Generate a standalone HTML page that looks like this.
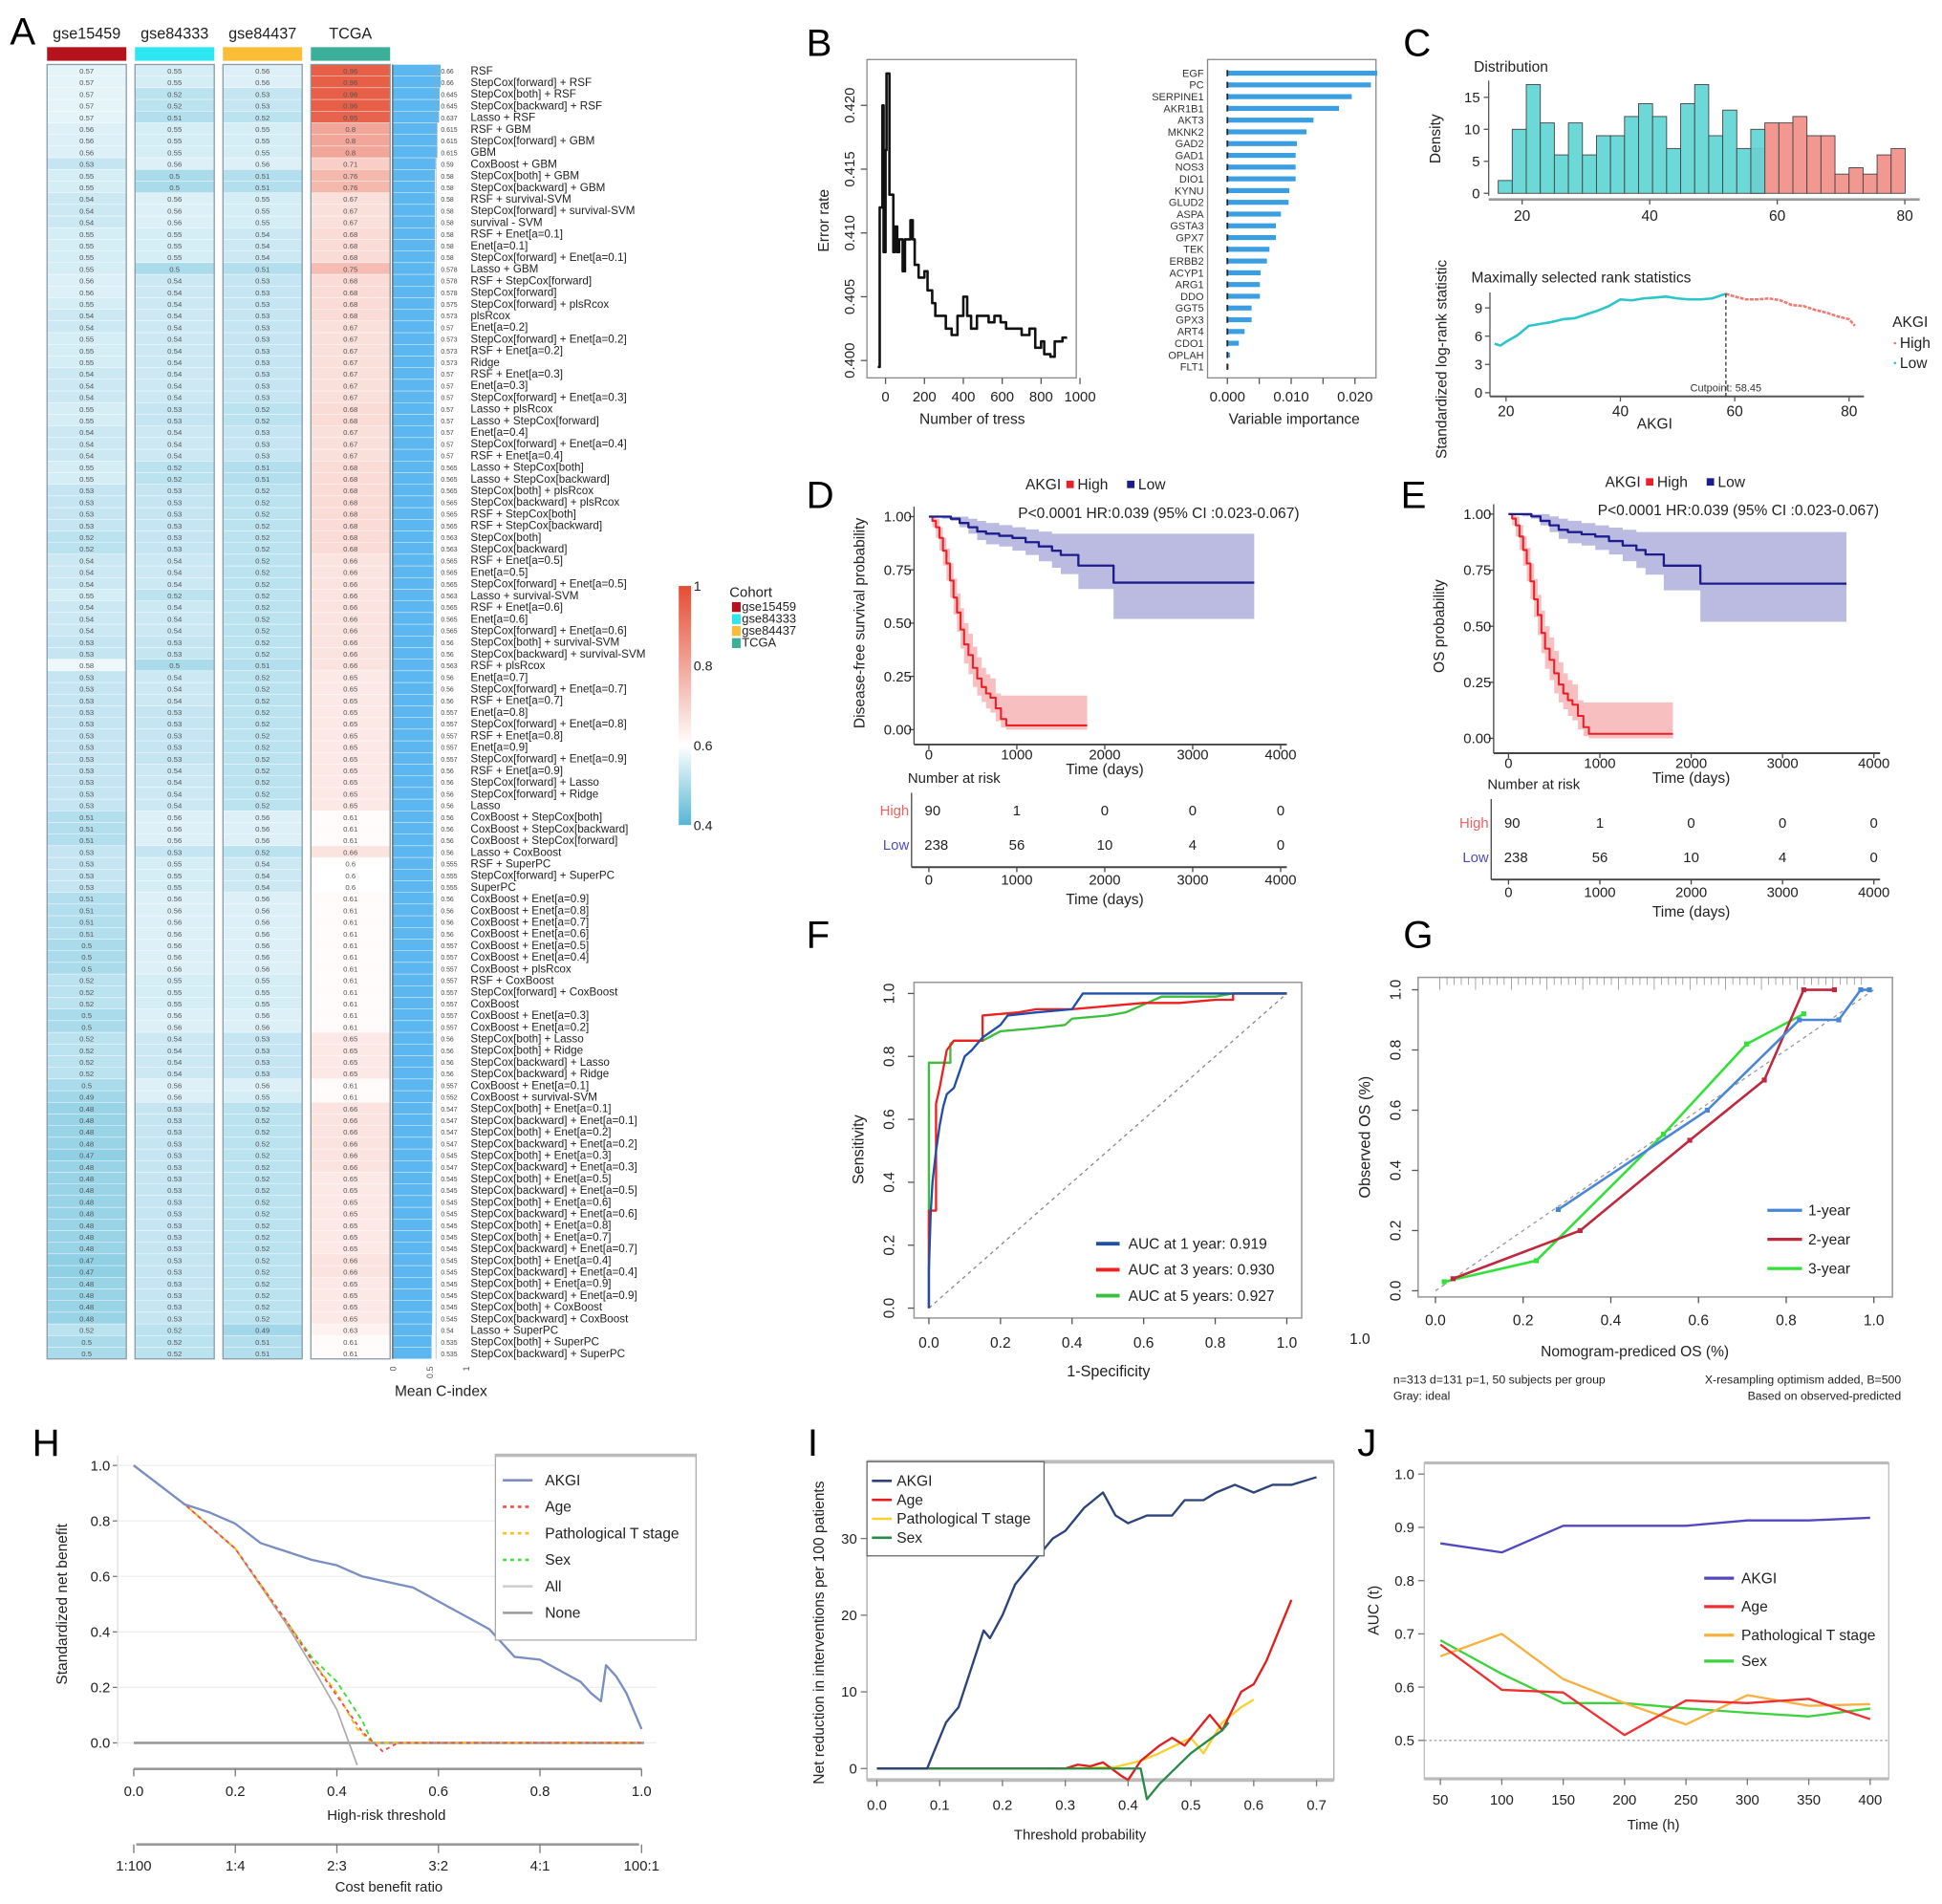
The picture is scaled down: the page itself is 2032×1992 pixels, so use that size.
<!DOCTYPE html>
<html><head><meta charset="utf-8"><style>
html,body{margin:0;padding:0;background:#fff;}
svg{display:block;}
text{font-family:"Liberation Sans",Arial,sans-serif;}
</style></head><body>
<svg id="fig" xmlns="http://www.w3.org/2000/svg" width="2032" height="1992" viewBox="0 0 1568 1537"></svg>
<script>
// ===== DATA =====
const models=["RSF","StepCox[forward] + RSF","StepCox[both] + RSF","StepCox[backward] + RSF","Lasso + RSF","RSF + GBM","StepCox[forward] + GBM","GBM","CoxBoost + GBM","StepCox[both] + GBM","StepCox[backward] + GBM","RSF + survival-SVM","StepCox[forward] + survival-SVM","survival - SVM","RSF + Enet[a=0.1]","Enet[a=0.1]","StepCox[forward] + Enet[a=0.1]","Lasso + GBM","RSF + StepCox[forward]","StepCox[forward]","StepCox[forward] + plsRcox","plsRcox","Enet[a=0.2]","StepCox[forward] + Enet[a=0.2]","RSF + Enet[a=0.2]","Ridge","RSF + Enet[a=0.3]","Enet[a=0.3]","StepCox[forward] + Enet[a=0.3]","Lasso + plsRcox","Lasso + StepCox[forward]","Enet[a=0.4]","StepCox[forward] + Enet[a=0.4]","RSF + Enet[a=0.4]","Lasso + StepCox[both]","Lasso + StepCox[backward]","StepCox[both] + plsRcox","StepCox[backward] + plsRcox","RSF + StepCox[both]","RSF + StepCox[backward]","StepCox[both]","StepCox[backward]","RSF + Enet[a=0.5]","Enet[a=0.5]","StepCox[forward] + Enet[a=0.5]","Lasso + survival-SVM","RSF + Enet[a=0.6]","Enet[a=0.6]","StepCox[forward] + Enet[a=0.6]","StepCox[both] + survival-SVM","StepCox[backward] + survival-SVM","RSF + plsRcox","Enet[a=0.7]","StepCox[forward] + Enet[a=0.7]","RSF + Enet[a=0.7]","Enet[a=0.8]","StepCox[forward] + Enet[a=0.8]","RSF + Enet[a=0.8]","Enet[a=0.9]","StepCox[forward] + Enet[a=0.9]","RSF + Enet[a=0.9]","StepCox[forward] + Lasso","StepCox[forward] + Ridge","Lasso","CoxBoost + StepCox[both]","CoxBoost + StepCox[backward]","CoxBoost + StepCox[forward]","Lasso + CoxBoost","RSF + SuperPC","StepCox[forward] + SuperPC","SuperPC","CoxBoost + Enet[a=0.9]","CoxBoost + Enet[a=0.8]","CoxBoost + Enet[a=0.7]","CoxBoost + Enet[a=0.6]","CoxBoost + Enet[a=0.5]","CoxBoost + Enet[a=0.4]","CoxBoost + plsRcox","RSF + CoxBoost","StepCox[forward] + CoxBoost","CoxBoost","CoxBoost + Enet[a=0.3]","CoxBoost + Enet[a=0.2]","StepCox[both] + Lasso","StepCox[both] + Ridge","StepCox[backward] + Lasso","StepCox[backward] + Ridge","CoxBoost + Enet[a=0.1]","CoxBoost + survival-SVM","StepCox[both] + Enet[a=0.1]","StepCox[backward] + Enet[a=0.1]","StepCox[both] + Enet[a=0.2]","StepCox[backward] + Enet[a=0.2]","StepCox[both] + Enet[a=0.3]","StepCox[backward] + Enet[a=0.3]","StepCox[both] + Enet[a=0.5]","StepCox[backward] + Enet[a=0.5]","StepCox[both] + Enet[a=0.6]","StepCox[backward] + Enet[a=0.6]","StepCox[both] + Enet[a=0.8]","StepCox[both] + Enet[a=0.7]","StepCox[backward] + Enet[a=0.7]","StepCox[both] + Enet[a=0.4]","StepCox[backward] + Enet[a=0.4]","StepCox[both] + Enet[a=0.9]","StepCox[backward] + Enet[a=0.9]","StepCox[both] + CoxBoost","StepCox[backward] + CoxBoost","Lasso + SuperPC","StepCox[both] + SuperPC","StepCox[backward] + SuperPC"];
const cohorts=["gse15459","gse84333","gse84437","TCGA"];
const gse15459=[.57,.57,.57,.57,.57,.56,.56,.56,.53,.55,.55,.54,.54,.54,.55,.55,.55,.55,.56,.56,.55,.54,.54,.55,.55,.55,.54,.54,.54,.55,.55,.54,.54,.54,.55,.55,.53,.53,.53,.53,.52,.52,.54,.54,.54,.55,.54,.54,.54,.53,.53,.58,.53,.53,.53,.53,.53,.53,.53,.53,.53,.53,.53,.53,.51,.51,.51,.53,.53,.53,.53,.51,.51,.51,.51,.5,.5,.5,.52,.52,.52,.5,.5,.52,.52,.52,.52,.5,.49,.48,.48,.48,.48,.47,.48,.48,.48,.48,.48,.48,.48,.48,.47,.47,.48,.48,.48,.48,.52,.5,.5];
const gse84333=[.55,.55,.52,.52,.51,.55,.55,.55,.56,.5,.5,.56,.56,.56,.55,.55,.55,.5,.54,.54,.54,.54,.54,.54,.54,.54,.54,.54,.54,.53,.53,.54,.54,.54,.52,.52,.53,.53,.53,.53,.53,.53,.54,.54,.54,.52,.54,.54,.54,.53,.53,.5,.54,.54,.54,.53,.53,.53,.53,.53,.54,.54,.54,.54,.56,.56,.56,.53,.55,.55,.55,.56,.56,.56,.56,.56,.56,.56,.55,.55,.55,.56,.56,.54,.54,.54,.54,.56,.56,.53,.53,.53,.53,.53,.53,.53,.53,.53,.53,.53,.53,.53,.53,.53,.53,.53,.53,.53,.52,.52,.52];
const gse84437=[.56,.56,.53,.53,.52,.55,.55,.55,.56,.51,.51,.55,.55,.55,.54,.54,.54,.51,.53,.53,.53,.53,.53,.53,.53,.53,.53,.53,.53,.52,.52,.53,.53,.53,.51,.51,.52,.52,.52,.52,.52,.52,.52,.52,.52,.52,.52,.52,.52,.52,.52,.51,.52,.52,.52,.52,.52,.52,.52,.52,.52,.52,.52,.52,.56,.56,.56,.52,.54,.54,.54,.56,.56,.56,.56,.56,.56,.56,.55,.55,.55,.56,.56,.53,.53,.53,.53,.56,.55,.52,.52,.52,.52,.52,.52,.52,.52,.52,.52,.52,.52,.52,.52,.52,.52,.52,.52,.52,.49,.51,.51];
const tcga=[.96,.96,.96,.96,.95,.8,.8,.8,.71,.76,.76,.67,.67,.67,.68,.68,.68,.75,.68,.68,.68,.68,.67,.67,.67,.67,.67,.67,.67,.68,.68,.67,.67,.67,.68,.68,.68,.68,.68,.68,.68,.68,.66,.66,.66,.66,.66,.66,.66,.66,.66,.66,.65,.65,.65,.65,.65,.65,.65,.65,.65,.65,.65,.65,.61,.61,.61,.66,.6,.6,.6,.61,.61,.61,.61,.61,.61,.61,.61,.61,.61,.61,.61,.65,.65,.65,.65,.61,.61,.66,.66,.66,.66,.66,.66,.65,.65,.65,.65,.65,.65,.65,.66,.66,.65,.65,.65,.65,.63,.61,.61];

const errTrees=[-40,-30,-30,-16,-16,-10,0,5,16,20,32,40,48,60,70,88,100,128,140,150,170,200,216,240,256,280,310,340,370,400,420,440,470,500,530,560,592,620,660,700,740,770,800,816,848,870,896,910,928];
const errRate=[.3995,.3995,.412,.412,.420,.4085,.4165,.4225,.4225,.413,.413,.4085,.4105,.4085,.4095,.407,.4095,.411,.4095,.4075,.4065,.407,.4055,.4045,.4035,.4035,.4025,.402,.4035,.405,.4035,.4025,.4035,.4035,.403,.4035,.403,.4025,.4025,.402,.4025,.401,.4015,.4005,.4003,.4015,.4015,.4018,.4017];
const genes=["EGF","PC","SERPINE1","AKR1B1","AKT3","MKNK2","GAD2","GAD1","NOS3","DIO1","KYNU","GLUD2","ASPA","GSTA3","GPX7","TEK","ERBB2","ACYP1","ARG1","DDO","GGT5","GPX3","ART4","CDO1","OPLAH","FLT1"];
const importance=[.0235,.0225,.0195,.0175,.0135,.0124,.0109,.0107,.0107,.0107,.0097,.0096,.0084,.0076,.0076,.0066,.0062,.0052,.0051,.0051,.0038,.0038,.0027,.0018,.0004,.0002];

const histStartLow=16.25, histStartHigh=55.85, binW=2.2;
const histLow=[2,10,17,11,6,11,6,9,9,12,14,12,7,14,17,9,13,7,10];
const histHigh=[7,11,11,12,9,9,3,4,3,6,7];
const rankX=[18,19,20,22,24,26,28,30,32,34,36,38,40,42,44,46,48,50,52,54,56,58.45];
const rankY=[5.2,5.0,5.4,6.1,7.1,7.3,7.5,7.8,7.9,8.3,8.7,9.2,9.9,9.8,10,10.1,10.2,10,9.9,9.9,10,10.5];
const rankXH=[58.45,60,62,64,66,68,70,72,74,76,78,80,81];
const rankYH=[10.5,10.2,9.9,9.9,10,9.8,9.3,9.2,8.8,8.5,8.1,7.8,7.1];

const kmTimeHigh=[0,40,80,120,160,200,240,280,320,360,400,450,500,550,600,650,700,760,820,880,1800];
const kmSurvHigh=[1,.98,.95,.9,.84,.78,.7,.62,.55,.47,.4,.35,.29,.24,.2,.17,.15,.1,.05,.02,.02];
const kmHiHigh=[1,1,.99,.95,.9,.85,.78,.71,.64,.57,.5,.45,.39,.34,.29,.26,.24,.17,.16,.16,.16];
const kmLoHigh=[1,.95,.9,.84,.77,.7,.62,.54,.46,.38,.31,.26,.2,.16,.13,.1,.08,.04,.01,.0,.0];
const kmTimeLow=[0,150,250,350,450,550,650,800,950,1100,1250,1400,1500,1700,2100,3700];
const kmSurvLow=[1,1,.99,.97,.95,.93,.92,.91,.9,.88,.86,.84,.82,.77,.69,.69];
const kmHiLow=[1,1,1,1,.99,.98,.97,.96,.95,.94,.93,.92,.92,.92,.92,.92];
const kmLoLow=[1,.99,.98,.95,.92,.89,.87,.86,.84,.82,.79,.76,.73,.66,.52,.52];
const riskTimes=[0,1000,2000,3000,4000];
const riskHigh=[90,1,0,0,0];
const riskLow=[238,56,10,4,0];

const roc1x=[0,0,.005,.01,.02,.03,.04,.05,.07,.1,.12,.15,.2,.22,.3,.4,.43,.6,.78,1];
const roc1y=[0,.12,.3,.4,.5,.58,.64,.68,.7,.8,.82,.86,.9,.93,.94,.95,1,1,1,1];
const roc3x=[0,0,.02,.02,.03,.05,.07,.09,.15,.15,.25,.3,.4,.5,.6,.7,.8,.85,.85,1];
const roc3y=[0,.31,.31,.65,.7,.82,.85,.85,.85,.93,.94,.95,.95,.96,.97,.97,.98,.98,1,1];
const roc5x=[0,0,.06,.06,.07,.15,.2,.3,.38,.4,.5,.55,.65,.8,.85,1];
const roc5y=[0,.78,.78,.84,.85,.85,.88,.89,.9,.92,.93,.94,.99,.99,1,1];

const cal1x=[.28,.62,.83,.92,.97,.99];
const cal1y=[.27,.6,.9,.9,1,1];
const cal2x=[.04,.33,.58,.75,.84,.91];
const cal2y=[.04,.2,.5,.7,1,1];
const cal3x=[.02,.23,.52,.71,.84];
const cal3y=[.03,.1,.52,.82,.92];

const dcaAx=[0,.05,.1,.15,.2,.25,.3,.35,.4,.45,.5,.55,.6,.65,.7,.73,.75,.8,.85,.88,.9,.92,.93,.95,.97,1];
const dcaAy=[1,.93,.86,.83,.79,.72,.69,.66,.64,.6,.58,.56,.51,.46,.41,.35,.31,.3,.25,.22,.18,.15,.28,.24,.18,.05];
const dcaAllx=[0,.1,.2,.3,.35,.4,.44];
const dcaAlly=[1,.86,.7,.43,.28,.12,-.08];
const dcaAgex=[0,.1,.2,.3,.35,.4,.45,.49,.52,.55,.6,1];
const dcaAgey=[1,.86,.7,.44,.3,.17,.04,-.03,.0,0,0,0];
const dcaTx=[0,.1,.2,.3,.35,.4,.44,.47,.5,.55,1];
const dcaTy=[1,.86,.7,.44,.3,.18,.05,0,0,0,0];
const dcaSexx=[0,.1,.2,.3,.35,.4,.45,.47,.5,.55,1];
const dcaSexy=[1,.86,.7,.44,.31,.22,.08,0,0,0,0];

const nrAx=[0,.08,.09,.11,.13,.15,.17,.18,.2,.22,.24,.26,.28,.3,.33,.36,.38,.4,.43,.47,.49,.52,.54,.57,.6,.63,.66,.7];
const nrAy=[0,0,2,6,8,13,18,17,20,24,26,28,30,31,34,36,33,32,33,33,35,35,36,37,36,37,37,38];
const nrAgex=[0,.3,.32,.34,.36,.39,.4,.42,.45,.47,.49,.51,.53,.55,.58,.6,.62,.64,.66];
const nrAgey=[0,0,.5,.3,.8,-1,-1.5,1,3,4,3,5,7,5,10,11,14,18,22];
const nrTx=[0,.3,.38,.42,.45,.5,.52,.55,.58,.6];
const nrTy=[0,0,.2,1,2,4,2,6,8,9];
const nrSexx=[0,.42,.43,.45,.5,.55,.56];
const nrSexy=[0,0,-4,-2,2,5,6];

const jTimes=[50,100,150,200,250,300,350,400];
const jAKGI=[.87,.853,.903,.903,.903,.913,.913,.918];
const jAge=[.68,.595,.59,.51,.575,.57,.578,.54];
const jT=[.658,.70,.615,.57,.53,.585,.565,.568];
const jSex=[.688,.625,.57,.57,.56,.552,.545,.56];

// ===== HELPERS =====
const svg=document.getElementById('fig');
const NS='http://www.w3.org/2000/svg';
function mk(tag,attrs,name,parent){
  const el=document.createElementNS(NS,tag);
  for(const k in attrs) el.setAttribute(k,attrs[k]);
  
  
  (parent||svg).appendChild(el);return el;}
function T(x,y,s,fs,anchor,fill,rot,name){
  const a={x:x,y:y,'font-size':fs||11,'text-anchor':anchor||'start',fill:fill||'#222'};
  if(rot!=null)a.transform='rotate('+rot+' '+x+' '+y+')';
  const el=mk('text',a,name||'label');el.textContent=s;return el;}
function L(x1,y1,x2,y2,st,w,name,dash){
  const a={x1:x1,y1:y1,x2:x2,y2:y2,stroke:st||'#333','stroke-width':w||1};
  if(dash)a['stroke-dasharray']=dash;return mk('line',a,name||'axis-line');}
function R(x,y,w,h,fill,name,stroke,sw,op){
  const a={x:x,y:y,width:Math.max(0,w),height:Math.max(0,h),fill:fill};
  if(stroke){a.stroke=stroke;a['stroke-width']=sw||1;}
  if(op!=null)a['fill-opacity']=op;return mk('rect',a,name||'rect');}
function P(pts,st,w,name,dash,fill,op){
  const d='M'+pts.map(p=>p[0].toFixed(2)+','+p[1].toFixed(2)).join('L');
  const a={d:d,stroke:st||'none','stroke-width':w||1.5,fill:fill||'none','stroke-linejoin':'round'};
  if(dash)a['stroke-dasharray']=dash;if(op!=null)a['fill-opacity']=op;return mk('path',a,name||'series-line');}
function lin(d0,d1,r0,r1){return v=>r0+(v-d0)/(d1-d0)*(r1-r0);}
function zip(xs,ys,sx,sy){return xs.map((v,i)=>[sx(v),sy(ys[i])]);}
function stepPts(ts,ss,sx,sy){const p=[];for(let i=0;i<ts.length;i++){if(i>0)p.push([sx(ts[i]),sy(ss[i-1])]);p.push([sx(ts[i]),sy(ss[i])]);}return p;}
function hex(c){return [parseInt(c.slice(1,3),16),parseInt(c.slice(3,5),16),parseInt(c.slice(5,7),16)];}
function mix(a,b,t){const A=hex(a),B=hex(b);return 'rgb('+A.map((v,i)=>Math.round(v+(B[i]-v)*t)).join(',')+')';}
function hcol(v){if(v<=0.6)return mix('#55b6d6','#ffffff',Math.max(0,(v-0.4)/0.2));return mix('#ffffff','#e44d33',Math.min(1,(v-0.6)/0.4));}
function letter(x,y,s){T(x,y,s,31,'start','#000',null,'panel-label-'+s.toLowerCase());}

// ===== PANEL A =====
letter(8,36,'A');
const colX=[38,109,180,251], colW=64, hTop=52, hBot=1097;
const rh=(hBot-hTop)/models.length;
const headCol=['#b5121b','#2ee6f2','#fbbd36','#3caf9a'];
const cols=[gse15459,gse84333,gse84437,tcga];
cohorts.forEach((c,j)=>{
  T(colX[j]+colW/2,31,c,12.5,'middle','#222',null,'cohort-header');
  R(colX[j],38,colW,11,headCol[j],'cohort-color-bar');
});
for(let i=0;i<models.length;i++){
  const y=hTop+i*rh;
  let sum=0;
  for(let j=0;j<4;j++){
    const v=cols[j][i];sum+=v;
    R(colX[j],y,colW,rh,hcol(v),'heatmap-cell','#ffffff',0.3);
    T(colX[j]+colW/2,y+rh*0.78,String(v),6,'middle','#555',null,'cell-value');
  }
  const m=sum/4;
  const sb=lin(0,1,317,376);
  R(317,y,sb(m)-317,rh,'#5cb6ef','mean-cindex-bar','#ffffff',0.3);
  T(356,y+rh*0.78,String(+m.toFixed(3)),5.3,'start','#444',null,'mean-value');
  T(380,y+rh*0.85,models[i],9,'start','#222',null,'model-label');
}
for(let j=0;j<4;j++) R(colX[j],hTop,colW,hBot-hTop,'none','heatmap-column-border','#8a9ba4',1);
L(317,hTop,317,hBot,'#444',0.8,'bar-axis');
L(352,hTop,352,hBot,'#9aa',0.5,'bar-border');
const sbm=lin(0,1,317,376);
[0,0.5,1].forEach(t=>T(sbm(t)+3,1103,String(t),7,'end','#555',-90,'bar-tick-label'));
T(356,1127,'Mean C-index',12,'middle','#222',null,'bar-axis-title');
// colorbar
const gdef=mk('defs',{},'defs');
const lg=mk('linearGradient',{id:'cb',x1:'0',y1:'1',x2:'0',y2:'0'},'gradient',gdef);
[['0','#55b6d6'],['0.333','#ffffff'],['1','#e44d33']].forEach(s=>mk('stop',{offset:s[0],'stop-color':s[1]},'gradient-stop',lg));
R(548,473,10,193,'url(#cb)','colorbar');
const scb=lin(0.4,1,666,473);
[1,0.8,0.6,0.4].forEach(t=>T(560,scb(t)+4,String(t),11,'start','#222',null,'colorbar-label'));
T(589,482,'Cohort',11.5,'start','#222',null,'cohort-legend-title');
cohorts.forEach((c,j)=>{R(591,486+j*9.7,7,8,headCol[j],'cohort-legend-key');T(599,493+j*9.7,c,10,'start','#222',null,'cohort-legend-label');});

// ===== PANEL B =====
letter(651,45,'B');
const bx=lin(0,1000,715,872), by=lin(0.400,0.420,291,85);
R(700,48,169,257,'none','error-plot-frame','#888',1);
P(stepPts(errTrees,errRate,bx,by),'#111',2,'error-rate-line');
[0,200,400,600,800,1000].forEach(t=>{L(bx(t),305,bx(t),310,'#555',1,'x-tick');T(bx(t),324,String(t),11.5,'middle','#222',null,'x-tick-label');});
[.400,.405,.410,.415,.420].forEach(t=>{L(695,by(t),700,by(t),'#555',1,'y-tick');T(690,by(t),t.toFixed(3),11.5,'middle','#222',-90,'y-tick-label');});
T(785,342,'Number of tress',12,'middle','#222',null,'x-axis-title');
T(669,178,'Error rate',12,'middle','#222',-90,'y-axis-title');
// importance
const ix=lin(0,0.020,991,1094), iy=i=>59+i*(296-59)/(genes.length-1);
R(975,48,136,257,'none','importance-frame','#888',1);
genes.forEach((g,i)=>{
  R(ix(0),iy(i)-2,ix(importance[i])-ix(0),4,i===genes.length-1?'#e05a4a':'#3b9ee0','importance-bar-'+g.toLowerCase());
  L(ix(0),iy(i)-2.5,ix(0),iy(i)+2.5,'#223',1.4,'importance-bar-start');
  T(972,iy(i)+3,g,8.5,'end','#333',null,'gene-label');
});
[0,.005,.010,.015,.020].forEach(t=>{L(ix(t),305,ix(t),310,'#555',1,'x-tick');});
[0,.010,.020].forEach(t=>T(ix(t),324,t.toFixed(3),11.5,'middle','#222',null,'x-tick-label'));
T(1045,342,'Variable importance',12,'middle','#222',null,'x-axis-title');

// ===== PANEL C =====
letter(1133,45,'C');
T(1190,58,'Distribution',12,'start','#222',null,'histogram-title');
const hx=lin(20,80,1229,1538), hy=lin(0,15,156,78.5);
L(1202,161,1550,161,'#999',2,'x-axis-line');
L(1202,65,1202,158,'#555',1,'y-axis-line');
histHigh.forEach((h,i)=>R(hx(histStartHigh+i*binW),hy(h),hx(binW)-hx(0),hy(0)-hy(h),'#f29891','histogram-bar-high','#444',0.7));
histLow.forEach((h,i)=>R(hx(histStartLow+i*binW),hy(h),hx(binW)-hx(0),hy(0)-hy(h),'#5fd5d5','histogram-bar-low','#444',0.7,0.92));
[0,5,10,15].forEach(t=>{L(1198,hy(t),1202,hy(t),'#555',1,'y-tick');T(1195,hy(t)+4,String(t),11.5,'end','#222',null,'y-tick-label');});
[20,40,60,80].forEach(t=>{L(hx(t),161,hx(t),165,'#555',1,'x-tick');T(hx(t),178,String(t),12,'middle','#222',null,'x-tick-label');});
T(1163,112,'Density',12,'middle','#222',-90,'y-axis-title');
// max rank
T(1188,228,'Maximally selected rank statistics',12,'start','#222',null,'rank-title');
const rx=lin(20,80,1216,1493), ry=lin(0,9,317,248.5);
L(1203,236,1203,320,'#555',1,'y-axis-line');
L(1203,320,1505,320,'#555',1.5,'x-axis-line');
P(zip(rankX,rankY,rx,ry),'#2cc5c8',2,'rank-line-low');
P(zip(rankXH,rankYH,rx,ry),'#ef7a74',2,'rank-line-high','3 1');
L(rx(58.45),ry(rankY[rankY.length-1]),rx(58.45),320,'#333',1,'cutpoint-line','3 2');
T(rx(58.45),316,'Cutpoint: 58.45',8.5,'middle','#333',null,'cutpoint-label');
[0,3,6,9].forEach(t=>{L(1199,ry(t),1203,ry(t),'#555',1,'y-tick');T(1197,ry(t)+4,String(t),11.5,'end','#222',null,'y-tick-label');});
[20,40,60,80].forEach(t=>{L(rx(t),320,rx(t),324,'#555',1,'x-tick');T(rx(t),336,String(t),12,'middle','#222',null,'x-tick-label');});
T(1336,346,'AKGI',12,'middle','#222',null,'x-axis-title');
T(1168,290,'Standardized log-rank statistic',12,'middle','#222',-90,'y-axis-title');
T(1528,264,'AKGI',12,'start','#222',null,'rank-legend-title');
T(1534,281,'High',12,'start','#222',null,'rank-legend-high');
T(1534,297,'Low',12,'start','#222',null,'rank-legend-low');
mk('circle',{cx:1530,cy:277,r:1,fill:'#ef7a74'},'legend-dot-high');
mk('circle',{cx:1530,cy:293,r:1,fill:'#2cc5c8'},'legend-dot-low');

// ===== KM PANELS =====
function km(ox,o){
  const sx=lin(0,4000,o.x0,o.x4), sy=lin(0,1,o.y0,o.y1);
  // CI bands
  const bandH=stepPts(kmTimeHigh,kmHiHigh,sx,sy).concat(stepPts(kmTimeHigh,kmLoHigh,sx,sy).reverse());
  P(bandH,'none',0,'ci-band-high',null,'#f08a8a',0.55);
  const bandL=stepPts(kmTimeLow,kmHiLow,sx,sy).concat(stepPts(kmTimeLow,kmLoLow,sx,sy).reverse());
  P(bandL,'none',0,'ci-band-low',null,'#8d8dce',0.6);
  P(stepPts(kmTimeHigh,kmSurvHigh,sx,sy),'#e8202a',1.6,'km-curve-high');
  P(stepPts(kmTimeLow,kmSurvLow,sx,sy),'#1c1c8c',1.8,'km-curve-low');
  [600,900,1300,1900,2500,2900,3300,3600].forEach(t=>{}); 
  L(o.x0-12,o.y1-8,o.x0-12,o.y0+12,'#444',1,'y-axis-line');
  L(o.x0-12,o.y0+12,o.x4+5,o.y0+12,'#444',1.5,'x-axis-line');
  [0,.25,.5,.75,1].forEach(t=>{L(o.x0-16,sy(t),o.x0-12,sy(t),'#444',1,'y-tick');T(o.x0-14,sy(t)+4,t.toFixed(2),11.5,'end','#222',null,'y-tick-label');});
  riskTimes.forEach(t=>{L(sx(t),o.y0+12,sx(t),o.y0+16,'#444',1,'x-tick');T(sx(t),o.y0+24,String(t),11.5,'middle','#222',null,'x-tick-label');});
  T(sx(2000),o.y0+36,'Time (days)',12,'middle','#222',null,'x-axis-title');
  T(o.ylabX,(o.y0+o.y1)/2,o.ylab,12,'middle','#222',-90,'y-axis-title');
  T(o.x0+78,o.y1-22,'AKGI',12,'start','#222',null,'legend-title');
  R(o.x0+111,o.y1-29,6,6,'#e8202a','legend-key-high');T(o.x0+120,o.y1-22,'High',12,'start','#222',null,'legend-label-high');
  R(o.x0+160,o.y1-29,6,6,'#1c1c8c','legend-key-low');T(o.x0+169,o.y1-22,'Low',12,'start','#222',null,'legend-label-low');
  T(o.x0+72,o.y1+1,'P<0.0001 HR:0.039 (95% CI :0.023-0.067)',12,'start','#222',null,'p-value-text');
  // risk table
  T(o.x0-17,o.nar,'Number at risk',11.5,'start','#222',null,'risk-table-title');
  L(o.x0-14,o.nar+8,o.x0-14,o.tax,'#444',1,'risk-axis-y');
  L(o.x0-14,o.tax,o.x4+5,o.tax,'#444',1.5,'risk-axis-x');
  T(o.x0-16,o.rh+4,'High',11.5,'end','#f06060',null,'risk-label-high');
  T(o.x0-16,o.rl+4,'Low',11.5,'end','#4a4acc',null,'risk-label-low');
  riskTimes.forEach((t,i)=>{
    T(sx(t)+(i===0?3:0),o.rh+4,String(riskHigh[i]),11.5,'middle','#222',null,'risk-high-count');
    T(sx(t)+(i===0?6:0),o.rl+4,String(riskLow[i]),11.5,'middle','#222',null,'risk-low-count');
    L(sx(t),o.tax,sx(t),o.tax+4,'#444',1,'risk-tick');
    T(sx(t),o.tax+14,String(t),11.5,'middle','#222',null,'risk-tick-label');
  });
  T(sx(2000),o.tax+30,'Time (days)',12,'middle','#222',null,'risk-x-title');
}
letter(651,410,'D');letter(1131,410,'E');
km(0,{x0:750,x4:1034,y0:589,y1:417,ylab:'Disease-free survival probability',ylabX:698,nar:632,rh:654,rl:682,tax:700});
km(0,{x0:1218,x4:1513,y0:596,y1:415,ylab:'OS probability',ylabX:1166,nar:637,rh:664,rl:692,tax:710});

// ===== PANEL F =====
letter(651,765,'F');
const fx=lin(0,1,750,1039), fy=lin(0,1,1056,802);
R(738,793,313,271,'none','roc-frame','#999',1.2);
L(fx(0),fy(0),fx(1),fy(1),'#888',1,'diagonal-reference','3 3');
P(zip(roc5x,roc5y,fx,fy),'#3cbf3c',1.8,'roc-5-year');
P(zip(roc3x,roc3y,fx,fy),'#ee2020',1.8,'roc-3-year');
P(zip(roc1x,roc1y,fx,fy),'#1f4fa8',1.8,'roc-1-year');
[0,.2,.4,.6,.8,1].forEach(t=>{L(fx(t),1064,fx(t),1069,'#555',1,'x-tick');T(fx(t),1088,t.toFixed(1),12,'middle','#222',null,'x-tick-label');
  L(733,fy(t),738,fy(t),'#555',1,'y-tick');T(722,fy(t),t.toFixed(1),12,'middle','#222',-90,'y-tick-label');});
T(895,1111,'1-Specificity',12.5,'middle','#222',null,'x-axis-title');
T(697,928,'Sensitivity',12.5,'middle','#222',-90,'y-axis-title');
[['AUC at 1 year: 0.919','#1f4fa8'],['AUC at 3 years: 0.930','#ee2020'],['AUC at 5 years: 0.927','#3cbf3c']].forEach((e,i)=>{
  L(885,1004+i*21,904,1004+i*21,e[1],3,'legend-key');T(911,1008+i*21,e[0],12,'start','#222',null,'legend-label');});
T(1098,1085,'1.0',12,'middle','#222',null,'stray-tick-label');

// ===== PANEL G =====
letter(1133,765,'G');
const gx=lin(0,1,1159,1513), gy=lin(0,1,1042,799);
R(1145,789,383,258,'none','calibration-frame','#999',1.2);
for(let i=0;i<60;i++){const v=0.01+ i*0.0163;L(gx(v),789,gx(v),795+(i%5===0?4:0),'#777',0.5,'rug-tick');}
L(gx(0),gy(0),gx(1),gy(1),'#999',1,'ideal-line','3 3');
function calSeries(xs,ys,c,name){P(zip(xs,ys,gx,gy),c,2,name);xs.forEach((v,i)=>R(gx(v)-2,gy(ys[i])-2,4,4,c,name+'-point'));}
calSeries(cal3x,cal3y,'#33e03a','cal-3-year');
calSeries(cal2x,cal2y,'#c0283e','cal-2-year');
calSeries(cal1x,cal1y,'#4a86d6','cal-1-year');
[0,.2,.4,.6,.8,1].forEach(t=>{L(gx(t),1047,gx(t),1052,'#555',1,'x-tick');T(gx(t),1070,t.toFixed(1),12,'middle','#222',null,'x-tick-label');
  L(1140,gy(t),1145,gy(t),'#555',1,'y-tick');T(1131,gy(t),t.toFixed(1),12,'middle','#222',-90,'y-tick-label');});
T(1320,1095,'Nomogram-prediced OS (%)',12,'middle','#222',null,'x-axis-title');
T(1106,918,'Observed OS (%)',12.5,'middle','#222',-90,'y-axis-title');
[['1-year','#4a86d6'],['2-year','#c0283e'],['3-year','#33e03a']].forEach((e,i)=>{
  L(1427,977+i*23.5,1455,977+i*23.5,e[1],2.5,'legend-key');T(1460,981+i*23.5,e[0],12,'start','#222',null,'legend-label');});
T(1125,1117,'n=313 d=131 p=1, 50 subjects per group',9.5,'start','#222',null,'footnote');
T(1125,1130,'Gray: ideal',9.5,'start','#222',null,'footnote');
T(1535,1117,'X-resampling optimism added, B=500',9.5,'end','#222',null,'footnote');
T(1535,1130,'Based on observed-predicted',9.5,'end','#222',null,'footnote');

// ===== PANEL H =====
letter(26,1175,'H');
const Hx=lin(0,1,108,518), Hy=lin(0,1,1407,1183);
[0,.2,.4,.6,.8,1].forEach(t=>L(94,Hy(t),530,Hy(t),'#eeeeee',1,'gridline'));
L(108,Hy(0),520,Hy(0),'#999',2,'none-line');
P(zip(dcaAllx,dcaAlly,Hx,Hy),'#aaaaaa',1.3,'all-line');
P(zip(dcaSexx,dcaSexy,Hx,Hy),'#44dd44',1.5,'sex-line','4 3');
P(zip(dcaTx,dcaTy,Hx,Hy),'#f4c020',1.5,'t-stage-line','4 3');
P(zip(dcaAgex,dcaAgey,Hx,Hy),'#ee5050',1.5,'age-line','3 3');
P(zip(dcaAx,dcaAy,Hx,Hy),'#7a8ec2',1.8,'akgi-line');
L(108,1428,518,1428,'#999',2,'x-axis-line');
[0,.2,.4,.6,.8,1].forEach(t=>{L(Hx(t),1428,Hx(t),1434,'#777',1,'x-tick');T(Hx(t),1450,t.toFixed(1),11.5,'middle','#222',null,'x-tick-label');
  L(91,Hy(t),95,Hy(t),'#777',1,'y-tick');T(89,Hy(t)+4,t.toFixed(1),11.5,'end','#222',null,'y-tick-label');});
L(95,1175,95,1410,'#ddd',1,'y-axis-line');
T(312,1469,'High-risk threshold',11.5,'middle','#222',null,'x-axis-title');
L(110,1489,516,1489,'#999',2,'cost-axis-line');
[['1:100',0],['1:4',.2],['2:3',.4],['3:2',.6],['4:1',.8],['100:1',1]].forEach(e=>{L(Hx(e[1]),1489,Hx(e[1]),1496,'#777',1,'cost-tick');T(Hx(e[1]),1510,e[0],11.5,'middle','#222',null,'cost-tick-label');});
T(314,1527,'Cost benefit ratio',11.5,'middle','#222',null,'cost-axis-title');
T(54,1295,'Standardized net benefit',12,'middle','#222',-90,'y-axis-title');
R(400,1174,162,150,'#ffffff','legend-box','#aaa',1);
L(400,1175,562,1175,'#bbb',2.5,'legend-top');
[['AKGI','#7a8ec2',null],['Age','#ee5050','3 3'],['Pathological T stage','#f4c020','3 3'],['Sex','#44dd44','3 3'],['All','#cccccc',null],['None','#999999',null]].forEach((e,i)=>{
  const y=1195+i*21.4;L(406,y,430,y,e[1],2,'legend-key',e[2]);T(440,y+4,e[0],12,'start','#222',null,'legend-label');});

// ===== PANEL I =====
letter(652,1175,'I');
const Ix=lin(0,0.7,708,1063), Iy=lin(0,30,1427.7,1242);
R(700,1180,377,257,'none','nr-frame','#aaa',1);
L(700,1180,1077,1180,'#bbb',3,'frame-top');L(700,1437,1077,1437,'#bbb',3,'frame-bottom');
P(zip(nrTx,nrTy,Ix,Iy),'#f8d030',1.8,'t-stage-line');
P(zip(nrAgex,nrAgey,Ix,Iy),'#e02020',1.8,'age-line');
P(zip(nrSexx,nrSexy,Ix,Iy),'#2a8a4a',1.8,'sex-line');
P(zip(nrAx,nrAy,Ix,Iy),'#2c4478',1.8,'akgi-line');
[0,.1,.2,.3,.4,.5,.6,.7].forEach(t=>{L(Ix(t),1437,Ix(t),1442,'#777',1,'x-tick');T(Ix(t),1461,t.toFixed(1),11.5,'middle','#222',null,'x-tick-label');});
[0,10,20,30].forEach(t=>{L(695,Iy(t),700,Iy(t),'#777',1,'y-tick');T(692,Iy(t)+4,String(t),11.5,'end','#222',null,'y-tick-label');});
T(872,1485,'Threshold probability',11.5,'middle','#222',null,'x-axis-title');
T(665,1318,'Net reduction in interventions per 100 patients',12,'middle','#222',-90,'y-axis-title');
R(700,1180,143,76,'#ffffff','legend-box','#666',1);
[['AKGI','#2c4478'],['Age','#e02020'],['Pathological T stage','#f8d030'],['Sex','#2a8a4a']].forEach((e,i)=>{
  const y=1195.5+i*15.3;L(704,y,720,y,e[1],2,'legend-key');T(724,y+4,e[0],12,'start','#222',null,'legend-label');});

// ===== PANEL J =====
letter(1096,1175,'J');
const Jx=lin(50,400,1163,1510), Jy=lin(0.5,1.0,1405,1190);
R(1150,1181,375,255,'none','auc-frame','#bbb',1);
L(1150,1181,1525,1181,'#bbb',2.5,'frame-top');L(1150,1436,1525,1436,'#bbb',2.5,'frame-bottom');
L(1150,Jy(0.5),1525,Jy(0.5),'#999',1,'reference-line','2 2');
P(zip(jTimes,jSex,Jx,Jy),'#3ed23e',1.8,'sex-line');
P(zip(jTimes,jT,Jx,Jy),'#f8b040',1.8,'t-stage-line');
P(zip(jTimes,jAge,Jx,Jy),'#f03030',1.8,'age-line');
P(zip(jTimes,jAKGI,Jx,Jy),'#5148c0',1.8,'akgi-line');
jTimes.forEach(t=>{L(Jx(t),1436,Jx(t),1441,'#777',1,'x-tick');T(Jx(t),1457,String(t),11.5,'middle','#222',null,'x-tick-label');});
[.5,.6,.7,.8,.9,1].forEach(t=>{L(1145,Jy(t),1150,Jy(t),'#777',1,'y-tick');T(1142,Jy(t)+4,t.toFixed(1),11.5,'end','#222',null,'y-tick-label');});
T(1335,1477,'Time (h)',11.5,'middle','#222',null,'x-axis-title');
T(1113,1300,'AUC (t)',12,'middle','#222',-90,'y-axis-title');
[['AKGI','#5148c0'],['Age','#f03030'],['Pathological T stage','#f8b040'],['Sex','#3ed23e']].forEach((e,i)=>{
  const y=[1274,1297,1320,1341][i];L(1376,y,1400,y,e[1],2.5,'legend-key');T(1406,y+4,e[0],12,'start','#222',null,'legend-label');});
</script>
</body></html>
